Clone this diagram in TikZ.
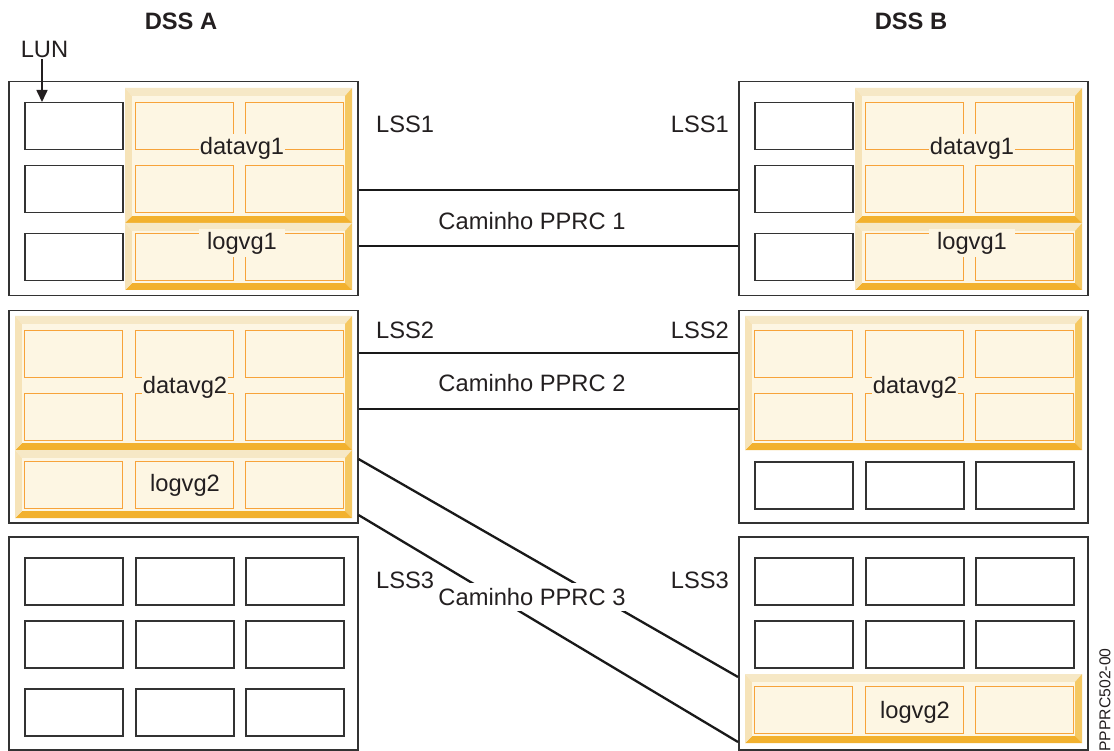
\documentclass[tikz,border=0pt]{standalone}
\usepackage{fontspec}
\setmainfont{Liberation Sans}
\usetikzlibrary{arrows.meta}
\definecolor{boxgray}{HTML}{333333}
\definecolor{txt}{HTML}{231F20}
\definecolor{vgorange}{HTML}{F7A33A}
\definecolor{vgfill}{HTML}{FDF6E3}
\definecolor{bevtop}{HTML}{F6E8C6}
\definecolor{bevleft}{HTML}{F6E3B8}
\definecolor{bevright}{HTML}{F5C862}
\definecolor{bevbottom}{HTML}{F2B12E}
\newcommand{\lblfont}{\fontsize{23.7}{28}\selectfont}
\newcommand{\vggroup}[4]{%
  \fill[bevtop] (#1,#2) -- (#3,#2) -- ({#3-7},{#2+8}) -- ({#1+7},{#2+8}) -- cycle;
  \fill[bevright] (#3,#2) -- (#3,#4) -- ({#3-7},{#4-7}) -- ({#3-7},{#2+8}) -- cycle;
  \fill[bevbottom] (#1,#4) -- (#3,#4) -- ({#3-7},{#4-7}) -- ({#1+7},{#4-7}) -- cycle;
  \fill[bevleft] (#1,#2) -- ({#1+7},{#2+8}) -- ({#1+7},{#4-7}) -- (#1,#4) -- cycle;
  \fill[vgfill] ({#1+7},{#2+8}) rectangle ({#3-7},{#4-7});
}
\tikzset{
  dssbox/.style={draw=boxgray, line width=1.5pt, fill=white, inner sep=0pt, anchor=north west, minimum width=349pt},
  lunbox/.style={draw=boxgray, line width=1.5pt, fill=white, inner sep=0pt, anchor=north west, minimum width=98pt, minimum height=47pt},
  vgbox/.style={draw=vgorange, line width=1.3pt, fill=vgfill, inner sep=0pt, anchor=north west, minimum width=98pt, minimum height=47pt},
  lbl/.style={font=\lblfont, text=txt, inner sep=0pt},
  vglbl/.style={font=\lblfont, text=txt, fill=vgfill, inner xsep=1pt, inner ysep=3pt},
  link/.style={line width=2.3pt, draw=black!90},
}
\begin{document}
\begin{tikzpicture}[x=1pt,y=-1pt]
\useasboundingbox (0,0) rectangle (1114,751);
% DSS outer boxes
\node[dssbox, minimum height=214pt] (A1) at (8,81) {};
\node[dssbox, minimum height=212pt] (A2) at (8,310) {};
\node[dssbox, minimum height=213pt] (A3) at (8,536) {};
\node[dssbox, minimum height=214pt] (B1) at (738,81) {};
\node[dssbox, minimum height=212pt] (B2) at (738,310) {};
\node[dssbox, minimum height=213pt] (B3) at (738,536) {};
% groups
\vggroup{125}{88}{352}{223}
\vggroup{125}{223}{352}{290}
\vggroup{855}{88}{1082}{223}
\vggroup{855}{223}{1082}{290}
\vggroup{15}{316}{352}{450}
\vggroup{15}{450}{352}{518}
\vggroup{745}{316}{1082}{450}
\vggroup{745}{674}{1082}{743}
% row 1 boxes
\foreach \r/\y in {1/102,2/165,3/233} {
  \node[lunbox] (A1-\r-1) at (24,\y) {};
  \node[lunbox] (B1-\r-1) at (754,\y) {};
}
\foreach \c/\x in {2/135,3/245} {
  \foreach \r/\y in {1/102,2/165,3/233} {
    \node[vgbox] (A1-\r-\c) at (\x,\y) {};
    \node[vgbox] (B1-\r-\c) at ({\x+730},\y) {};
  }
}
% row 2 boxes
\foreach \c/\x in {1/24,2/135,3/245} {
  \foreach \r/\y in {1/330,2/393,3/461} {
    \node[vgbox] (A2-\r-\c) at (\x,\y) {};
  }
  \foreach \r/\y in {1/330,2/393} {
    \node[vgbox] (B2-\r-\c) at ({\x+730},\y) {};
  }
  \node[lunbox] (B2-3-\c) at ({\x+730},461) {};
}
% row 3 boxes
\foreach \c/\x in {1/24,2/135,3/245} {
  \foreach \r/\y in {1/557,2/620,3/688} {
    \node[lunbox] (A3-\r-\c) at (\x,\y) {};
  }
  \foreach \r/\y in {1/557,2/620} {
    \node[lunbox] (B3-\r-\c) at ({\x+730},\y) {};
  }
  \node[vgbox] (B3-3-\c) at ({\x+730},686) {};
}
% group labels
\node[vglbl] (dv1a) at (242,148) {datavg1};
\node[vglbl, inner xsep=8pt] (lv1a) at (242,243) {logvg1};
\node[vglbl] (dv1b) at (972,148) {datavg1};
\node[vglbl, inner xsep=8pt] (lv1b) at (972,243) {logvg1};
\node[vglbl] (dv2a) at (185,387) {datavg2};
\node[vglbl] (dv2b) at (915,387) {datavg2};
\node[lbl] (lv2a) at (185,485) {logvg2};
\node[lbl] (lv2b) at (915,712) {logvg2};
% titles
\node[lbl, font=\lblfont\bfseries] (dssa) at (181,21) {DSS A};
\node[lbl, font=\lblfont\bfseries] (dssb) at (911,21) {DSS B};
\node[lbl] (lun) at (44.5,49) {LUN};
\draw[line width=1.6pt, draw=txt, -{Triangle[length=12pt,width=11pt]}] (lun.south -| 42,0) ++(0,2) -- (A1-1-1.north -| 42,0);
% LSS labels
\node[lbl, anchor=west] (lss1a) at (376,124) {LSS1};
\node[lbl, anchor=east] (lss1b) at (729,124) {LSS1};
\node[lbl, anchor=west] (lss2a) at (376,330) {LSS2};
\node[lbl, anchor=east] (lss2b) at (729,330) {LSS2};
\node[lbl, anchor=west] (lss3a) at (376,580) {LSS3};
\node[lbl, anchor=east] (lss3b) at (729,580) {LSS3};
% links
\draw[link] (A1.east |- 0,190) -- (B1.west |- 0,190);
\draw[link] (A1.east |- 0,246) -- (B1.west |- 0,246);
\draw[link] (A2.east |- 0,353) -- (B2.west |- 0,353);
\draw[link] (A2.east |- 0,409) -- (B2.west |- 0,409);
\draw[link] (A2.east |- 0,459) -- (B3.west |- 0,677);
\draw[link] (A2.east |- 0,515) -- (B3.west |- 0,742);
\node[lbl] (pp1) at (532,221) {Caminho PPRC 1};
\node[lbl] (pp2) at (532,383) {Caminho PPRC 2};
\node[lbl, fill=white, inner xsep=1pt, inner ysep=5pt] (pp3) at (532,597) {Caminho PPRC 3};
% figure id
\node[lbl, font=\fontsize{15.7}{18}\selectfont, rotate=90] (figid) at (1105,700) {PPPRC502-00};
\end{tikzpicture}
\end{document}
